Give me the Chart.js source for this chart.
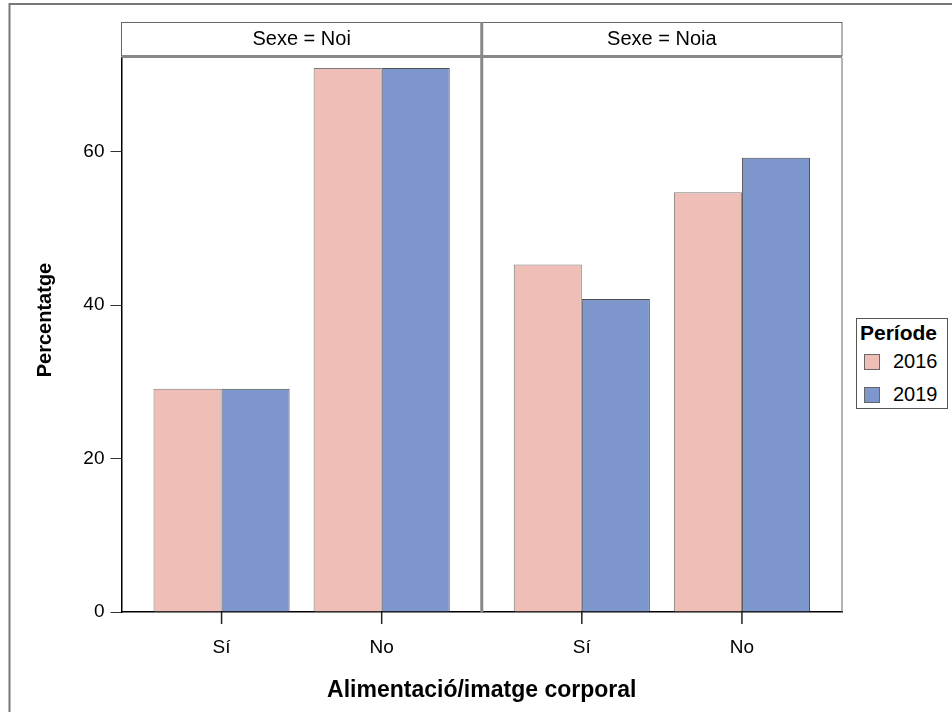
<!DOCTYPE html>
<html>
<head>
<meta charset="utf-8">
<script src="https://cdn.jsdelivr.net/npm/chart.js@4.4.1/dist/chart.umd.min.js"></script>
<style>
body{margin:0;background:#fff;font-family:'Liberation Sans',Arial,sans-serif;}
#wrap{position:relative;width:952px;height:712px;}
#legend{position:absolute;left:856px;top:318px;width:92px;height:91px;border:1px solid #555;box-sizing:border-box;background:#fff;}
#legend .ttl{font-weight:bold;font-size:21px;line-height:24px;margin:2px 0 0 3px;}
#legend .item{display:flex;align-items:center;font-size:20px;height:33px;margin-left:7px;}
#legend .sw{width:16px;height:16px;border:1px solid #666;box-sizing:border-box;margin-right:13px;}
</style>
</head>
<body>
<div id="wrap">
<canvas id="chart" width="952" height="712"></canvas>
<div id="legend"></div>
</div>
<script>
const panels=['Noi','Noia'];
const categories=['Sí','No'];
const periods=['2016','2019'];
// order: Noi Sí, Noi No, Noia Sí, Noia No
const values2016=[29.1,70.9,45.3,54.7];
const values2019=[29.1,70.9,40.8,59.2];
const yTicks=[0,20,40,60];
const colors=['#EEBEB7','#7D96CC'];
const borders=['#7a7a7a','#505050'];

const PANEL_SPAN=2.25;
const X_PAD=0.625;
const FONT="'Liberation Sans', Arial, sans-serif";

function toPoints(values){
    let pts=[];
    panels.forEach((p,pi)=>{
        categories.forEach((c,ci)=>{
            pts.push({x:pi*PANEL_SPAN+ci,y:values[pi*categories.length+ci]});
        });
    });
    return pts;
}
const xTickValues=toPoints(values2016).map(p=>p.x);

// panel headers, dividers, y title and the outer frame
const framePlugin={
    id:'frame',
    afterDraw(chart){
        const ctx=chart.ctx;
        const area=chart.chartArea;
        const xs=chart.scales.x;
        ctx.save();
        // outer frame
        ctx.strokeStyle='#777';
        ctx.lineWidth=2;
        ctx.beginPath();
        ctx.moveTo(9.5,712);ctx.lineTo(9.5,4);ctx.lineTo(952,4);
        ctx.stroke();

        const edges=[area.left];
        panels.forEach((p,pi)=>{
            edges.push(xs.getPixelForValue((pi+1)*PANEL_SPAN-X_PAD));
        });
        // header boxes
        ctx.lineWidth=1;
        ctx.strokeStyle='#666';
        panels.forEach((p,pi)=>{
            const l=edges[pi],r=edges[pi+1];
            ctx.strokeRect(l,22.5,r-l,33.5);
            ctx.fillStyle='#000';
            ctx.font='20px '+FONT;
            ctx.textAlign='center';
            ctx.textBaseline='middle';
            ctx.fillText('Sexe = '+p,(l+r)/2,39.5);
        });
        // header / plot double line
        ctx.strokeStyle='#888';
        ctx.lineWidth=3;
        ctx.beginPath();
        ctx.moveTo(area.left,56.5);ctx.lineTo(area.right,56.5);
        ctx.stroke();
        // plot right border
        ctx.strokeStyle='#666';
        ctx.lineWidth=1;
        ctx.beginPath();
        ctx.moveTo(area.right,area.top);ctx.lineTo(area.right,area.bottom);
        ctx.stroke();
        // divider between panels
        ctx.strokeStyle='#888';
        ctx.lineWidth=3;
        for(let i=1;i<panels.length;i++){
            ctx.beginPath();
            ctx.moveTo(edges[i],22);ctx.lineTo(edges[i],area.bottom);
            ctx.stroke();
        }
        // x tick marks under the axis
        ctx.strokeStyle='#222';
        ctx.lineWidth=1.5;
        xTickValues.forEach(v=>{
            const px=xs.getPixelForValue(v);
            ctx.beginPath();
            ctx.moveTo(px,area.bottom);ctx.lineTo(px,area.bottom+12);
            ctx.stroke();
        });
        // y axis title, centred on header + plot
        ctx.translate(45,(22+area.bottom)/2+3);
        ctx.rotate(-Math.PI/2);
        ctx.fillStyle='#000';
        ctx.font='bold 20px '+FONT;
        ctx.textAlign='center';
        ctx.textBaseline='middle';
        ctx.fillText('Percentatge',0,0);
        ctx.restore();
    }
};

const ctx=document.getElementById('chart').getContext('2d');
const chart=new Chart(ctx,{
    type:'bar',
    data:{
        datasets:periods.map((p,i)=>({
            label:p,
            data:toPoints(i===0?values2016:values2019),
            backgroundColor:colors[i],
            borderColor:borders[i],
            borderWidth:1
        }))
    },
    options:{
        responsive:false,
        animation:false,
        layout:{padding:{left:0,top:58,right:110,bottom:0}},
        categoryPercentage:0.85,
        barPercentage:1.0,
        plugins:{legend:{display:false},tooltip:{enabled:false}},
        scales:{
            x:{
                type:'linear',
                offset:false,
                min:-X_PAD,
                max:panels.length*PANEL_SPAN-X_PAD,
                afterBuildTicks(scale){scale.ticks=xTickValues.map(v=>({value:v}));},
                afterFit(scale){scale.height=100;},
                ticks:{
                    color:'#000',
                    font:{family:FONT,size:19},
                    padding:12,
                    maxRotation:0,
                    autoSkip:false,
                    callback(v){
                        const ci=xTickValues.indexOf(v)%categories.length;
                        return categories[ci];
                    }
                },
                grid:{display:false,tickLength:12},
                border:{display:true,color:'#000',width:1.5},
                title:{display:true,text:'Alimentació/imatge corporal',color:'#000',
                    font:{family:FONT,size:23,weight:'bold'},padding:{bottom:8}}
            },
            y:{
                min:0,
                max:72.2,
                afterBuildTicks(scale){scale.ticks=yTicks.map(v=>({value:v}));},
                afterFit(scale){scale.width=121.5;},
                ticks:{color:'#000',font:{family:FONT,size:19},padding:6},
                grid:{drawOnChartArea:false,tickLength:11,color:'#333'},
                border:{color:'#000',width:1.5}
            }
        }
    },
    plugins:[framePlugin]
});

// legend
const legend=document.getElementById('legend');
let a='<div class="ttl">Període</div>';
periods.forEach((p,i)=>{
    a+=`<div class="item"><span class="sw" style="background:${colors[i]}"></span>${p}</div>`;
});
legend.innerHTML=a;
</script>
</body>
</html>
